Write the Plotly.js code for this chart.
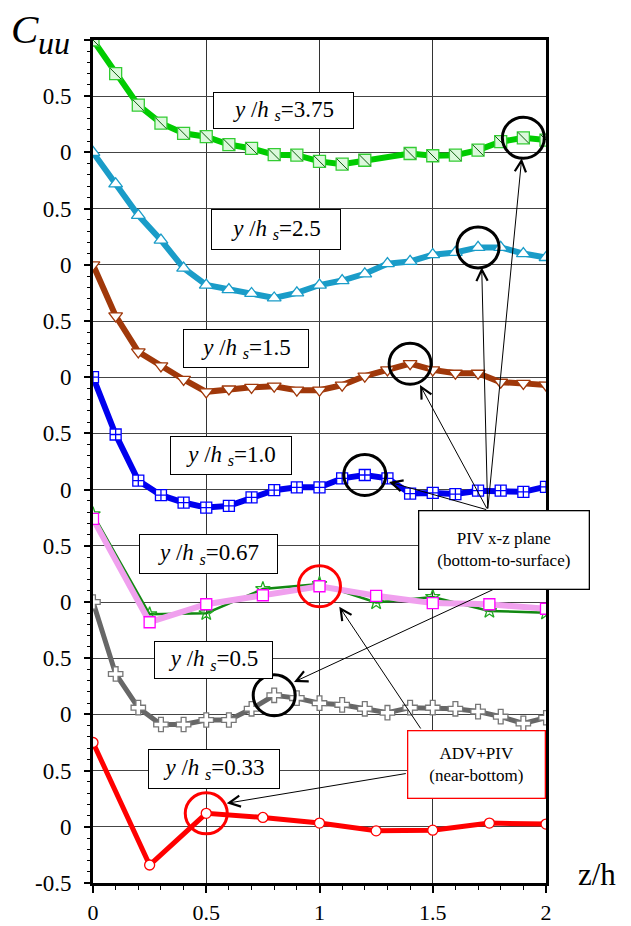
<!DOCTYPE html>
<html>
<head>
<meta charset="utf-8">
<script src="https://cdn.plot.ly/plotly-3.0.1.min.js"></script>
<style>html,body{margin:0;padding:0;background:#fff;}#chart{width:631px;height:926px;}</style>
</head>
<body>
<div id="chart"></div>
<script>
// ---- data ----
const zFine   = [0,0.1,0.2,0.3,0.4,0.5,0.6,0.7,0.8,0.9,1.0,1.1,1.2,1.3,1.4,1.5,1.6,1.7,1.8,1.9,2.0];
const z375    = [0,0.1,0.2,0.3,0.4,0.5,0.6,0.7,0.8,0.9,1.0,1.1,1.2,1.4,1.5,1.6,1.7,1.8,1.9,2.0];
const zCoarse = [0,0.25,0.5,0.75,1.0,1.25,1.5,1.75,2.0];

const cuu375 = [1.0,0.70,0.42,0.26,0.17,0.14,0.07,0.035,-0.02,-0.025,-0.08,-0.105,-0.07,-0.01,-0.03,-0.025,0.02,0.095,0.13,0.11];
const cuu250 = [1.0,0.72,0.44,0.22,-0.03,-0.18,-0.22,-0.255,-0.295,-0.25,-0.18,-0.14,-0.08,0.01,0.03,0.09,0.11,0.155,0.155,0.10,0.065];
const cuu150 = [1.0,0.545,0.225,0.10,-0.02,-0.13,-0.105,-0.09,-0.08,-0.115,-0.115,-0.07,0.01,0.065,0.12,0.065,0.035,0.035,-0.045,-0.055,-0.07];
const cuu100 = [1.0,0.49,0.08,-0.05,-0.115,-0.16,-0.145,-0.07,-0.005,0.02,0.02,0.10,0.13,0.10,-0.035,-0.03,-0.04,-0.01,-0.01,-0.02,0.025];
const cuu067stars   = [0.78,-0.11,-0.10,0.115,0.16,-0.005,0.045,-0.08,-0.095];
const cuu067squares = [0.74,-0.18,-0.02,0.06,0.14,0.055,-0.01,-0.02,-0.06];
const cuu050 = [1.0,0.36,0.06,-0.09,-0.09,-0.05,-0.05,0.05,0.17,0.145,0.10,0.085,0.05,0.015,0.06,0.06,0.05,0.025,-0.02,-0.08,-0.03];
const cuu033 = [0.75,-0.34,0.12,0.083,0.033,-0.036,-0.03,0.033,0.024];

const offsets = {s375:6, s250:5, s150:4, s100:3, s067:2, s050:1, s033:0};
const labelTexts = ['3.75','2.5','1.5','1.0','0.67','0.5','0.33'];
const yTickVals  = [-0.5,0,0.5,1,1.5,2,2.5,3,3.5,4,4.5,5,5.5,6,6.5,7];
const yTickText  = ['-0.5','0','0.5','0','0.5','0','0.5','0','0.5','0','0.5','0','0.5','0','0.5',''];
const xTickVals  = [0,0.5,1,1.5,2];
const xTickText  = ['0','0.5','1','1.5','2'];

// ---- helpers ----
const shift = (arr, off) => arr.map(v => v + off);
const FONT = '"Liberation Serif", "Times New Roman", serif';
const L = 93, T = 40, W = 453, H = 843;
const px = x => (x - L) / W;
const py = y => 1 - (y - T) / H;

function series(x, y, lineColor, lineWidth, symbol, size, mFill, mLine) {
  return {x: x, y: y, type: 'scatter', mode: 'lines+markers', hoverinfo: 'skip',
    line: {color: lineColor, width: lineWidth},
    marker: {symbol: symbol, size: size, color: mFill, line: {color: mLine, width: 1.3}}};
}

const y375 = shift(cuu375, offsets.s375);
const y250 = shift(cuu250, offsets.s250);
const y150 = shift(cuu150, offsets.s150);
const y100 = shift(cuu100, offsets.s100);
const y067s = shift(cuu067stars, offsets.s067);
const y067q = shift(cuu067squares, offsets.s067);
const y050 = shift(cuu050, offsets.s050);
const y033 = shift(cuu033, offsets.s033);

const traces = [
  series(zCoarse, y033, '#ff0000', 5, 'circle', 10, '#ffffff', '#ff0000'),
  series(zFine, y050, '#676767', 5, 'cross', 12, '#ffffff', '#777777'),
  series(zCoarse, y067s, '#118811', 2.5, 'star', 11, 'rgba(255,255,255,0)', '#22aa22'),
  series(zCoarse, y067q, '#f0a0ee', 6, 'square', 11, '#ffffff', '#ff00ff'),
  series(zFine, y100, '#0000ee', 6, 'square-cross', 11, '#ffffff', '#0000ff'),
  series(zFine, y150, '#a0380a', 6, 'triangle-down', 12, '#ffffff', '#a0380a'),
  series(zFine, y250, '#1a9cc8', 6, 'triangle-up', 12, '#ffffff', '#1a9cc8'),
  series(z375, y375, '#00cc00', 6, 'square', 12, '#dcf8dc', '#33cc33'),
  {x: z375, y: y375, type: 'scatter', mode: 'markers', hoverinfo: 'skip',
   marker: {symbol: 'line-nw', size: 11, line: {color: '#0d5d0d', width: 1}}}
];

// highlighted points (circles), anchored to the data
const highlights = [
  {x: z375, y: y375, z: 1.9, color: '#000'},
  {x: zFine, y: y250, z: 1.7, color: '#000'},
  {x: zFine, y: y150, z: 1.4, color: '#000'},
  {x: zFine, y: y100, z: 1.2, color: '#000'},
  {x: zFine, y: y050, z: 0.8, color: '#000'},
  {x: zCoarse, y: y067q, z: 1.0, color: '#ff0000'},
  {x: zCoarse, y: y033, z: 0.5, color: '#ff0000'}
];
const shapes = highlights.map(h => {
  const i = h.x.findIndex(v => Math.abs(v - h.z) < 1e-9);
  return {type: 'circle', xref: 'x', yref: 'y', xsizemode: 'pixel', ysizemode: 'pixel',
    xanchor: h.x[i], yanchor: h.y[i], x0: -21, x1: 21, y0: -20.5, y1: 20.5,
    line: {color: h.color, width: 3}, layer: 'above'};
});

// label boxes (pixel centre and size)
const labelBoxes = [
  [283.7,110.3,141,37],[276,229.7,130,41],[245.5,348.8,126,39],[230.5,456,122,39],
  [208.8,554,139,40],[213.7,659.5,119,38],[213.5,769.3,132,40]
];
const annotations = labelBoxes.map((b, i) => ({
  xref: 'paper', yref: 'paper', x: px(b[0]), y: py(b[1]), xanchor: 'center', yanchor: 'middle',
  showarrow: false, width: b[2] - 6, height: b[3] - 6, borderpad: 2,
  bgcolor: '#ffffff', bordercolor: '#000000', borderwidth: 1,
  text: '<i>y</i> /<i>h</i> <sub><i>s</i></sub>=' + labelTexts[i],
  font: {family: FONT, size: 23, color: '#000'}
}));

annotations.push({xref: 'paper', yref: 'paper', x: px(504), y: py(549.7), xanchor: 'center', yanchor: 'middle',
  showarrow: false, width: 165, height: 73, borderpad: 2, bgcolor: '#fff', bordercolor: '#000', borderwidth: 1.3,
  text: 'PIV x-z plane<br>(bottom-to-surface)', font: {family: FONT, size: 17, color: '#000'}});
annotations.push({xref: 'paper', yref: 'paper', x: px(476.2), y: py(764.2), xanchor: 'center', yanchor: 'middle',
  showarrow: false, width: 132, height: 62, borderpad: 2, bgcolor: '#fff', bordercolor: '#ff0000', borderwidth: 1.3,
  text: 'ADV+PIV<br>(near-bottom)', font: {family: FONT, size: 17, color: '#000'}});

// arrows: [tipX, tipY, tailX, tailY] in pixels
const arrows = [
  [521.7,158.3,487.7,510],[481.7,267.3,487.7,510],[420,385,487.7,510],[389,482,487.7,510],
  [294,682,494.3,589],[339.3,606.7,421.7,730],[226.7,803.3,407.3,773.3]
];
arrows.forEach(a => annotations.push({xref: 'paper', yref: 'paper', x: px(a[0]), y: py(a[1]),
  axref: 'pixel', ayref: 'pixel', ax: a[2] - a[0], ay: a[3] - a[1], text: '', showarrow: true,
  arrowhead: 5, arrowsize: 2.2, arrowwidth: 1, arrowcolor: '#000', standoff: 0}));

// axis titles
annotations.push({xref: 'paper', yref: 'paper', x: px(25), y: py(29), xanchor: 'center', yanchor: 'middle',
  showarrow: false, text: '<i>C</i>', font: {family: FONT, size: 41, color: '#000'}});
annotations.push({xref: 'paper', yref: 'paper', x: px(54), y: py(43), xanchor: 'center', yanchor: 'middle',
  showarrow: false, text: '<i>uu</i>', font: {family: FONT, size: 32, color: '#000'}});
annotations.push({xref: 'paper', yref: 'paper', x: px(597), y: py(874), xanchor: 'center', yanchor: 'middle',
  showarrow: false, text: 'z/h', font: {family: FONT, size: 31, color: '#000'}});

const layout = {
  width: 631, height: 926, showlegend: false,
  paper_bgcolor: '#fff', plot_bgcolor: '#fff',
  margin: {l: L, r: 631 - L - W, t: T, b: 926 - T - H, pad: 0},
  font: {family: FONT, size: 22, color: '#000'},
  xaxis: {range: [0, 2], tickvals: xTickVals, ticktext: xTickText, showgrid: true,
    gridcolor: '#333', gridwidth: 1, zeroline: false, showline: true, linecolor: '#000', linewidth: 3,
    mirror: true, ticks: 'outside', ticklen: 7, tickwidth: 2, tickcolor: '#000', ticklabelstandoff: 1,
    minor: {dtick: 0.1, ticks: 'outside', ticklen: 4, tickwidth: 1, tickcolor: '#000', showgrid: false},
    tickfont: {family: FONT, size: 22}},
  yaxis: {range: [-0.5, 7], tickvals: yTickVals, ticktext: yTickText, showgrid: true,
    gridcolor: '#444', gridwidth: 1, zeroline: false, showline: true, linecolor: '#000', linewidth: 3,
    mirror: true, ticks: 'outside', ticklen: 6, tickwidth: 2, tickcolor: '#000', ticklabelstandoff: 8,
    minor: {dtick: 0.1, ticks: 'outside', ticklen: 3, tickwidth: 1, tickcolor: '#000', showgrid: false},
    tickfont: {family: FONT, size: 23}},
  shapes: shapes,
  annotations: annotations
};

Plotly.newPlot('chart', traces, layout, {staticPlot: true, displayModeBar: false});
</script>
</body>
</html>
